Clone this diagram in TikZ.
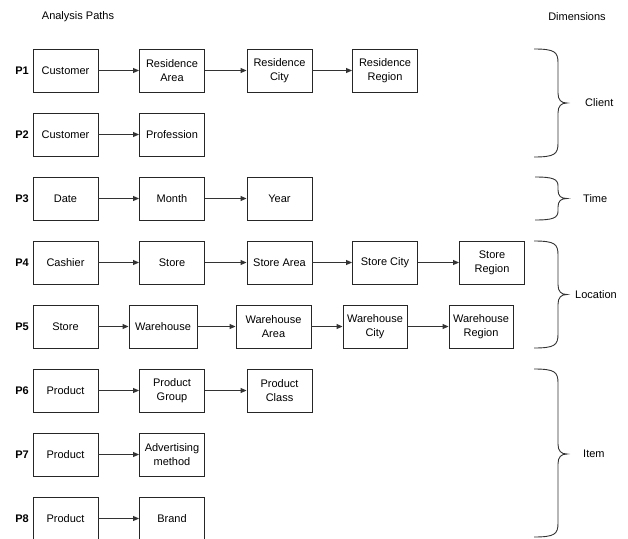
\documentclass[tikz,border=0pt]{standalone}
\usepackage{fontspec}
\setmainfont{Liberation Sans}
\usetikzlibrary{arrows.meta}
\begin{document}
\begin{tikzpicture}[x=1pt,y=-1pt,
  every node/.style={font=\fontsize{11}{14}\selectfont, inner sep=0pt},
  box/.style={draw=black!85, line width=0.9pt, minimum width=65pt, minimum height=43pt, align=center},
  wbox/.style={box, minimum width=68pt},
  plabel/.style={font=\fontsize{11}{14}\selectfont\bfseries},
  conn/.style={draw=black!80, line width=0.9pt, -{Triangle[length=6pt,width=5pt]}},
  brace/.style={draw=black!80, line width=0.9pt},
  dimlabel/.style={anchor=west}]
\useasboundingbox (0,0) rectangle (628,538);

\node (t1) at (78,17) {Analysis Paths};
\node (t2) at (577,17) {Dimensions};

% P1
\node[plabel] (p1) at (22,70.5) {P1};
\node[box] (a1) at (65.5,70.5) {Customer};
\node[box] (a2) at (172,70.5) {Residence\\Area};
\node[box] (a3) at (279.5,70.5) {Residence\\City};
\node[box] (a4) at (385,70.5) {Residence\\Region};
\draw[conn] (a1) -- (a2);
\draw[conn] (a2) -- (a3);
\draw[conn] (a3) -- (a4);

% P2
\node[plabel] (p2) at (22,134.5) {P2};
\node[box] (b1) at (65.5,134.5) {Customer};
\node[box] (b2) at (172,134.5) {Profession};
\draw[conn] (b1) -- (b2);

% P3
\node[plabel] (p3) at (22,198.5) {P3};
\node[box] (c1) at (65.5,198.5) {Date};
\node[box] (c2) at (172,198.5) {Month};
\node[box] (c3) at (279.5,198.5) {Year};
\draw[conn] (c1) -- (c2);
\draw[conn] (c2) -- (c3);

% P4
\node[plabel] (p4) at (22,262.5) {P4};
\node[box] (d1) at (65.5,262.5) {Cashier};
\node[box] (d2) at (172,262.5) {Store};
\node[box] (d3) at (279.5,262.5) {Store Area};
\node[box] (d4) at (385,262.5) {Store City};
\node[box] (d5) at (492,262.5) {Store\\Region};
\draw[conn] (d1) -- (d2);
\draw[conn] (d2) -- (d3);
\draw[conn] (d3) -- (d4);
\draw[conn] (d4) -- (d5);

% P5
\node[plabel] (p5) at (22,326.5) {P5};
\node[box] (e1) at (65.5,326.5) {Store};
\node[wbox] (e2) at (163,326.5) {Warehouse};
\node[box, minimum width=75pt] (e3) at (273.5,326.5) {Warehouse\\Area};
\node[box, minimum width=64pt] (e4) at (375,326.5) {Warehouse\\City};
\node[box, minimum width=64pt] (e5) at (481,326.5) {Warehouse\\Region};
\draw[conn] (e1) -- (e2);
\draw[conn] (e2) -- (e3);
\draw[conn] (e3) -- (e4);
\draw[conn] (e4) -- (e5);

% P6
\node[plabel] (p6) at (22,390.5) {P6};
\node[box] (f1) at (65.5,390.5) {Product};
\node[box] (f2) at (172,390.5) {Product\\Group};
\node[box] (f3) at (279.5,390.5) {Product\\Class};
\draw[conn] (f1) -- (f2);
\draw[conn] (f2) -- (f3);

% P7
\node[plabel] (p7) at (22,454.5) {P7};
\node[box] (g1) at (65.5,454.5) {Product};
\node[box] (g2) at (172,454.5) {Advertising\\method};
\draw[conn] (g1) -- (g2);

% P8
\node[plabel] (p8) at (22,518.5) {P8};
\node[box] (h1) at (65.5,518.5) {Product};
\node[box] (h2) at (172,518.5) {Brand};
\draw[conn] (h1) -- (h2);

% Braces
\draw[brace] (534,49) .. controls (555,49) and (558,52) .. (558,63)
  -- (558,93) .. controls (558,100) and (561,103) .. (567,103)
  .. controls (561,103) and (558,106) .. (558,113)
  -- (558,143) .. controls (558,154) and (555,157) .. (534,157);
\node[dimlabel] (dc) at (585,103) {Client};

\draw[brace] (535,177) .. controls (553,177) and (558,179) .. (558,186)
  -- (558,190) .. controls (558,196) and (561,198.5) .. (567,198.5)
  .. controls (561,198.5) and (558,201) .. (558,207)
  -- (558,211) .. controls (558,218) and (553,220) .. (535,220);
\node[dimlabel] (dt) at (583,198.5) {Time};

\draw[brace] (534,241) .. controls (555,241) and (558,244) .. (558,255)
  -- (558,284.5) .. controls (558,291.5) and (561,294.5) .. (567,294.5)
  .. controls (561,294.5) and (558,297.5) .. (558,304.5)
  -- (558,334) .. controls (558,345) and (555,348) .. (534,348);
\node[dimlabel] (dl) at (575,294.5) {Location};

\draw[brace] (534,369) .. controls (555,369) and (558,372) .. (558,383)
  -- (558,444) .. controls (558,451) and (561,454) .. (567,454)
  .. controls (561,454) and (558,457) .. (558,464)
  -- (558,523) .. controls (558,534) and (555,537) .. (534,537);
\node[dimlabel] (di) at (583,454) {Item};
\end{tikzpicture}
\end{document}
